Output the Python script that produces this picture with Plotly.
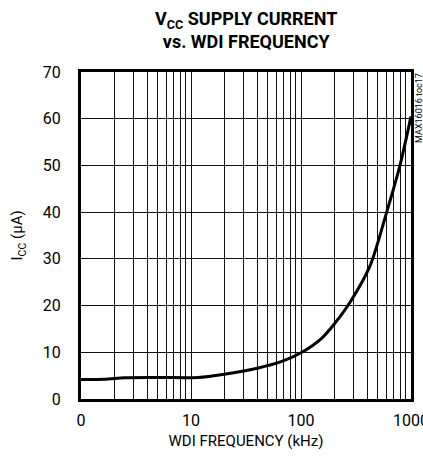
import plotly.graph_objects as go

# Data
freq_khz = [1, 1.65, 2.5, 5, 11.6, 20, 40, 66, 100, 154, 200, 279, 424, 601, 794, 1000]
icc_ua = [4.2, 4.25, 4.55, 4.6, 4.6, 5.3, 6.6, 8.0, 9.9, 13.0, 16.0, 20.7, 28.5, 40.0, 50.0, 60.5]

x_tickvals = [1, 10, 100, 1000]
x_ticktext = ["0", "10", "100", "1000"]
x_minor = [m * d for d in (1, 10, 100) for m in range(2, 10)]
y_tickvals = [0, 10, 20, 30, 40, 50, 60, 70]

FONT = "Roboto, Liberation Sans, sans-serif"

fig = go.Figure()
fig.add_trace(go.Scatter(
    x=freq_khz, y=icc_ua, mode="lines",
    line=dict(color="black", width=3, shape="spline", smoothing=0.8),
    showlegend=False, hoverinfo="skip",
))

fig.update_layout(
    width=423, height=461,
    margin=dict(l=81, r=12, t=72, b=62),
    paper_bgcolor="white", plot_bgcolor="white",
    font=dict(family=FONT, color="black", size=15),
    title=dict(
        text="<b>V<sub>CC</sub> SUPPLY CURRENT<br>vs. WDI FREQUENCY</b>",
        x=0.582, xanchor="center", y=0.946, yanchor="top",
        font=dict(family=FONT, size=18, color="black"),
    ),
    xaxis=dict(
        type="log", range=[0, 3], automargin=False,
        tickmode="array", tickvals=x_tickvals, ticktext=x_ticktext,
        showgrid=True, gridcolor="#111", gridwidth=1,
        minor=dict(tickmode="array", tickvals=x_minor, showgrid=True,
                   gridcolor="#111", gridwidth=1, ticks=""),
        showline=True, linecolor="black", linewidth=3, mirror=True,
        ticks="", ticklabelstandoff=5, ticklabeloverflow="allow",
        tickfont=dict(size=16),
        title=dict(text="WDI FREQUENCY (kHz)", font=dict(size=15), standoff=7),
        zeroline=False,
    ),
    yaxis=dict(
        range=[0, 70], automargin=False,
        tickmode="array", tickvals=y_tickvals,
        showgrid=True, gridcolor="#111", gridwidth=1,
        showline=True, linecolor="black", linewidth=3, mirror=True,
        ticks="", ticklabelstandoff=14,
        tickfont=dict(size=16),
        zeroline=False,
    ),
    annotations=[
        dict(text="I<sub>CC</sub> (µA)", xref="paper", yref="paper",
             x=-0.191, y=0.5, xanchor="center", yanchor="middle",
             textangle=-90, showarrow=False, font=dict(size=15)),
        dict(text="MAX16016 toc17", xref="paper", yref="paper",
             x=1.024, y=1.0, xanchor="center", yanchor="top",
             textangle=-90, showarrow=False, borderpad=0,
             font=dict(size=9)),
    ],
)

fig.write_html("out.html", config={"displayModeBar": False},
               post_script="document.body.style.margin='0px';")
